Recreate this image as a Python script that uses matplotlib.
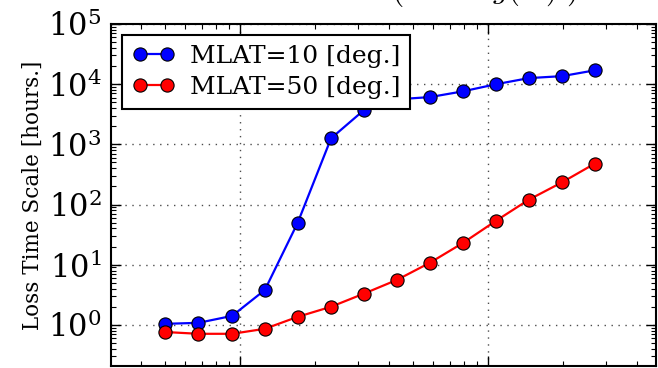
import matplotlib
matplotlib.use("Agg")
import matplotlib.pyplot as plt
from matplotlib.ticker import LogLocator, NullFormatter

plt.rcParams["font.family"] = "DejaVu Serif"
plt.rcParams["mathtext.fontset"] = "cm"

# energy grid shared by both latitudes
energy = [0.50, 0.68, 0.93, 1.26, 1.71, 2.33, 3.16, 4.30, 5.84, 7.93, 10.8, 14.6, 19.9, 27.0]

# loss time scales [hours]
tau_mlat10 = [1.04, 1.08, 1.41, 3.8, 50, 1260, 3700, 5600, 6100, 7600, 10000, 12600, 13600, 17000]
tau_mlat50 = [0.76, 0.71, 0.71, 0.86, 1.36, 2.0, 3.3, 5.6, 10.8, 23, 54, 120, 234, 480]

fig = plt.figure(figsize=(6.58, 3.68), dpi=100)
ax = fig.add_axes([0.1687, 0.0054, 0.8283, 0.9294])

ax.plot(energy, tau_mlat10, "-o", color="blue", lw=1.6, ms=9.5,
        mec="black", mew=0.8, label="MLAT=10 [deg.]")
ax.plot(energy, tau_mlat50, "-o", color="red", lw=1.6, ms=9.5,
        mec="black", mew=0.8, label="MLAT=50 [deg.]")

ax.set_xscale("log")
ax.set_yscale("log")
ax.set_xlim(0.302, 47.6)
ax.set_ylim(0.207, 1e5)

ax.yaxis.set_major_locator(LogLocator(base=10, numticks=10))
ax.yaxis.set_minor_locator(LogLocator(base=10, subs=range(2, 10), numticks=20))
ax.yaxis.set_minor_formatter(NullFormatter())
ax.xaxis.set_minor_formatter(NullFormatter())

ax.tick_params(which="both", direction="in", top=True, right=True)
ax.tick_params(which="major", length=7, width=1.0, labelsize=22, pad=7)
ax.tick_params(which="minor", length=3.5, width=0.8)
ax.tick_params(axis="x", labelbottom=False)
for s in ax.spines.values():
    s.set_linewidth(1.5)

ax.grid(True, which="major", color="black", linestyle=(0, (1, 4)), linewidth=1.0, alpha=0.7)

ax.set_ylabel("Loss Time Scale [hours.]", fontsize=15.5)
ax.yaxis.set_label_coords(-0.124, 0.5)

leg = ax.legend(loc="upper left", fontsize=18, numpoints=2, fancybox=False,
                framealpha=1, edgecolor="black", borderaxespad=0.45,
                handlelength=1.7, handletextpad=0.6, borderpad=0.4, labelspacing=0.3)
leg.get_frame().set_linewidth(1.5)

fig.text(0.594, 1.005, r"$\left(\ \ \ \ \ \ \ \ \ \ g(\ \ \ )\ \right)$", fontsize=22,
         ha="left", va="baseline")

fig.savefig("out.png", dpi=100)
